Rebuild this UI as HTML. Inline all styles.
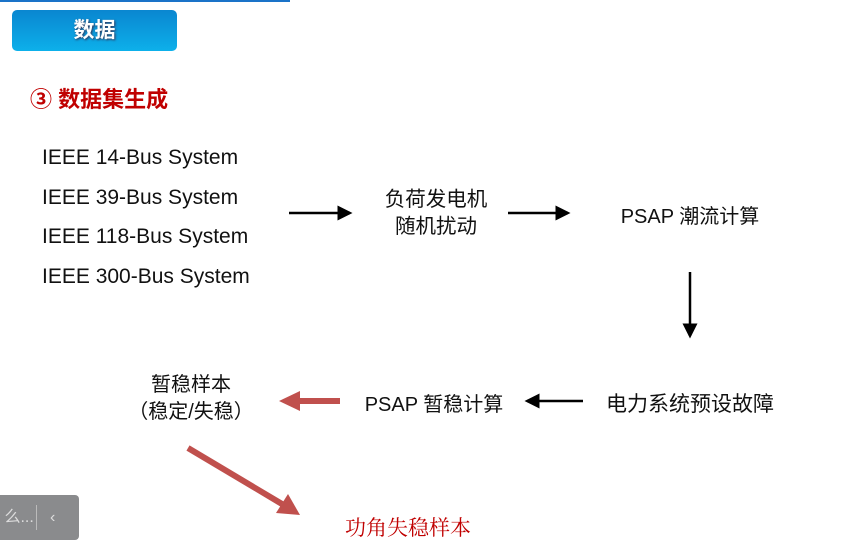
<!DOCTYPE html>
<html><head><meta charset="utf-8"><style>
body{margin:0;width:848px;height:555px;background:#fff;position:relative;overflow:hidden;font-family:"Liberation Sans","Noto Sans CJK SC",sans-serif;}
.t{position:absolute;white-space:nowrap;color:#111;}
</style></head><body>
<div style="position:absolute;left:0;top:0;width:290px;height:2px;background:#1a73c8"></div>
<div style="position:absolute;left:12px;top:10px;width:165px;height:41px;border-radius:5px;background:linear-gradient(#0a86d0,#0db0ea);color:#fff;font-weight:bold;font-size:21px;text-align:center;line-height:41px;text-shadow:1px 1px 2px #335">数据</div>
<div class="t" style="left:30px;top:82px;font-size:22px;font-weight:bold;color:#c00000">③ 数据集生成</div>
<div class="t" style="left:42px;top:138px;font-size:21px;line-height:39.5px">IEEE 14-Bus System<br>IEEE 39-Bus System<br>IEEE 118-Bus System<br>IEEE 300-Bus System</div>
<div class="t" style="left:366px;top:186px;font-size:20.5px;line-height:27px;text-align:center;width:140px">负荷发电机<br>随机扰动</div>
<div class="t" style="left:610px;top:200px;font-size:20px;width:160px;text-align:center">PSAP 潮流计算</div>
<div class="t" style="left:590px;top:388px;font-size:21px;width:200px;text-align:center">电力系统预设故障</div>
<div class="t" style="left:354px;top:388px;font-size:20px;width:160px;text-align:center">PSAP 暂稳计算</div>
<div class="t" style="left:101px;top:372px;font-size:20px;line-height:27px;width:180px;text-align:center">暂稳样本<br>（稳定/失稳）</div>
<div class="t" style="left:345px;top:512px;font-size:21px;color:#c00000;font-family:'Liberation Serif','Noto Serif CJK SC',serif">功角失稳样本</div>
<div style="position:absolute;left:0;top:495px;width:79px;height:45px;background:#8a8b8d;border-radius:0 4px 4px 0;color:#ddd;font-size:16px;line-height:45px">&nbsp;么...<span style="position:absolute;left:36px;top:10px;width:1px;height:25px;background:#bbb"></span><span style="position:absolute;left:50px;top:0">‹</span></div>
<svg width="848" height="555" style="position:absolute;left:0;top:0">
<defs>
<marker id="a" markerWidth="6" markerHeight="6" refX="5" refY="3" orient="auto" markerUnits="strokeWidth"><path d="M0,0L6,3L0,6z" fill="#000"/></marker>
</defs>
<g stroke="#000" stroke-width="2.5">
<line x1="289" y1="213" x2="350" y2="213" marker-end="url(#a)"/>
<line x1="508" y1="213" x2="568" y2="213" marker-end="url(#a)"/>
<line x1="690" y1="272" x2="690" y2="336" marker-end="url(#a)"/>
<line x1="583" y1="401" x2="527" y2="401" marker-end="url(#a)"/>
</g>
<line x1="340" y1="401" x2="296" y2="401" stroke="#c0504d" stroke-width="6"/>
<path d="M279,401L300,391L300,411z" fill="#c0504d"/>
<line x1="188" y1="448" x2="282" y2="504" stroke="#c0504d" stroke-width="6"/>
<path d="M300,515L276,513L288,494z" fill="#c0504d"/>
</svg>
</body></html>
